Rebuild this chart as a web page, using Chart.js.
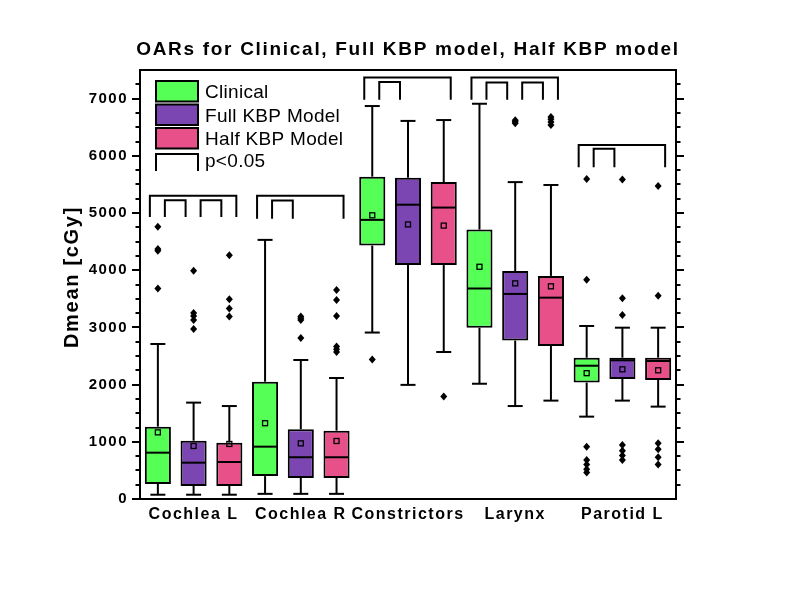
<!DOCTYPE html>
<html>
<head>
<meta charset="utf-8">
<script src="https://cdn.jsdelivr.net/npm/chart.js@4.4.0/dist/chart.umd.min.js"></script>
<style>
  html, body { margin: 0; padding: 0; background: #fff; }
  #wrap { width: 785px; height: 600px; }
</style>
</head>
<body>
<div id="wrap"><canvas id="chart" width="785" height="600"></canvas></div>
<script>
const categories = ["Cochlea L", "Cochlea R", "Constrictors", "Larynx", "Parotid L"];
const seriesNames = ["Clinical", "Full KBP Model", "Half KBP Model"];
const seriesColors = ["#55FF55", "#7B45B2", "#E8508A"];
const yTickValues = [0, 1000, 2000, 3000, 4000, 5000, 6000, 7000];

// Clinical
const clinicalLow = [75, 90, 2910, 2015, 1440];
const clinicalQ1 = [262, 400, 4430, 2995, 2035];
const clinicalMedian = [810, 915, 4880, 3680, 2330];
const clinicalQ3 = [1265, 2050, 5635, 4710, 2470];
const clinicalHigh = [2710, 4530, 6870, 6910, 3025];
const clinicalMean = [1165, 1325, 4960, 4060, 2200];
const clinicalOutliers = [[4760, 4370, 4340, 3680], [], [2440], [], [5595, 3835, 915, 680, 605, 520, 465]];

// Full KBP model
const fullLow = [75, 90, 1995, 1625, 1720];
const fullQ1 = [227, 367, 4090, 2770, 2098];
const fullMedian = [635, 730, 5145, 3585, 2425];
const fullQ3 = [1020, 1220, 5615, 3985, 2471];
const fullHigh = [1685, 2430, 6610, 5540, 2995];
const fullMean = [927, 973, 4800, 3770, 2267];
const fullOutliers = [[3990, 3250, 3200, 3130, 2970], [3190, 3160, 3130, 2815], [], [6620, 6595, 6570], [5585, 3510, 3215, 945, 845, 760, 680]];

// Half KBP model
const halfLow = [75, 90, 2570, 1720, 1615];
const halfQ1 = [227, 367, 4090, 2675, 2080];
const halfMedian = [647, 730, 5095, 3520, 2413];
const halfQ3 = [985, 1195, 5540, 3900, 2471];
const halfHigh = [1625, 2115, 6625, 5490, 2995];
const halfMean = [962, 1014, 4780, 3718, 2250];
const halfOutliers = [[4260, 3490, 3330, 3190], [3655, 3480, 3200, 2665, 2620, 2570], [1790], [6680, 6640, 6590, 6540], [5470, 3555, 975, 870, 730, 605]];

// significance brackets (p<0.05)
const bracketOuterTop = [5300, 5300, 7370, 7370, 6190];
const bracketInnerTop = [5225, 5220, 7290, 7280, 6125];
const bracketBase = [4930, 4900, 6980, 6980, 5800];
const sigClinicalHalf = [true, true, true, true, true];
const sigClinicalFull = [true, true, true, true, true];
const sigFullHalf = [true, false, false, true, false];

const stats = [
  { low: clinicalLow, q1: clinicalQ1, med: clinicalMedian, q3: clinicalQ3, high: clinicalHigh, mean: clinicalMean, out: clinicalOutliers },
  { low: fullLow, q1: fullQ1, med: fullMedian, q3: fullQ3, high: fullHigh, mean: fullMean, out: fullOutliers },
  { low: halfLow, q1: halfQ1, med: halfMedian, q3: halfQ3, high: halfHigh, mean: halfMean, out: halfOutliers },
];

const SPACING = "1.5px";
const FONT = "'Liberation Sans', Arial, sans-serif";

function seg(ctx, x1, y1, x2, y2) {
  ctx.beginPath();
  ctx.moveTo(x1, y1);
  ctx.lineTo(x2, y2);
  ctx.stroke();
}

function bracket(ctx, x1, x2, yTop, yBase) {
  ctx.beginPath();
  ctx.moveTo(x1, yBase);
  ctx.lineTo(x1, yTop);
  ctx.lineTo(x2, yTop);
  ctx.lineTo(x2, yBase);
  ctx.stroke();
}

const boxPlugin = {
  id: "boxParts",
  beforeUpdate(chart) {
    chart.ctx.letterSpacing = SPACING;
  },
  beforeDraw(chart) {
    chart.ctx.letterSpacing = SPACING;
  },
  beforeDatasetsDraw(chart) {
    let ctx = chart.ctx;
    let y = chart.scales.y;
    ctx.save();
    ctx.strokeStyle = "#000";
    ctx.lineWidth = 2;
    stats.forEach((s, di) => {
      chart.getDatasetMeta(di).data.forEach((bar, i) => {
        let x = bar.x;
        let cap = 7.5;
        seg(ctx, x, y.getPixelForValue(s.q3[i]), x, y.getPixelForValue(s.high[i]));
        seg(ctx, x, y.getPixelForValue(s.q1[i]), x, y.getPixelForValue(s.low[i]));
        seg(ctx, x - cap, y.getPixelForValue(s.high[i]), x + cap, y.getPixelForValue(s.high[i]));
        seg(ctx, x - cap, y.getPixelForValue(s.low[i]), x + cap, y.getPixelForValue(s.low[i]));
      });
    });
    ctx.restore();
  },
  afterDatasetsDraw(chart) {
    let ctx = chart.ctx;
    let y = chart.scales.y;
    ctx.save();
    ctx.strokeStyle = "#000";
    ctx.fillStyle = "#000";
    stats.forEach((s, di) => {
      chart.getDatasetMeta(di).data.forEach((bar, i) => {
        let x = bar.x;
        let w = bar.width;
        // median
        ctx.lineWidth = 2;
        let ym = y.getPixelForValue(s.med[i]);
        seg(ctx, x - w / 2 + 1, ym, x + w / 2 - 1, ym);
        // mean
        ctx.lineWidth = 1.3;
        let ya = y.getPixelForValue(s.mean[i]);
        ctx.strokeRect(x - 2.5, ya - 2.5, 5, 5);
        // outliers
        s.out[i].forEach((v) => {
          let yo = y.getPixelForValue(v);
          ctx.beginPath();
          ctx.moveTo(x, yo - 4);
          ctx.lineTo(x + 3.5, yo);
          ctx.lineTo(x, yo + 4);
          ctx.lineTo(x - 3.5, yo);
          ctx.closePath();
          ctx.fill();
        });
      });
    });

    // brackets
    ctx.lineWidth = 2;
    ctx.lineJoin = "miter";
    categories.forEach((c, i) => {
      let c0 = chart.getDatasetMeta(0).data[i].x;
      let c1 = chart.getDatasetMeta(1).data[i].x;
      let c2 = chart.getDatasetMeta(2).data[i].x;
      let base = y.getPixelForValue(bracketBase[i]);
      if (sigClinicalHalf[i]) bracket(ctx, c0 - 8, c2 + 7, y.getPixelForValue(bracketOuterTop[i]), base);
      if (sigClinicalFull[i]) bracket(ctx, c0 + 7, c1 - 8, y.getPixelForValue(bracketInnerTop[i]), base);
      if (sigFullHalf[i]) bracket(ctx, c1 + 7, c2 - 8, y.getPixelForValue(bracketInnerTop[i]), base);
    });
    ctx.restore();
  },
  afterDraw(chart) {
    let ctx = chart.ctx;
    let a = chart.chartArea;
    let y = chart.scales.y;
    ctx.save();
    ctx.strokeStyle = "#000";
    ctx.fillStyle = "#000";
    ctx.lineWidth = 2;

    // frame
    ctx.strokeRect(a.left, a.top, a.right - a.left, a.bottom - a.top);

    // minor ticks left and all ticks right
    for (let v = 250; v < 7500; v += 250) {
      let py = Math.round(y.getPixelForValue(v));
      if (v % 1000 !== 0) {
        seg(ctx, a.left - 4.5, py, a.left, py);
        seg(ctx, a.right, py, a.right + 4.5, py);
      }
    }
    yTickValues.forEach((v) => {
      let py = Math.round(y.getPixelForValue(v));
      if (v > 0) seg(ctx, a.right, py, a.right + 8, py);
    });

    // title
    ctx.letterSpacing = "1.7px";
    ctx.font = "bold 19px " + FONT;
    ctx.textAlign = "center";
    ctx.textBaseline = "alphabetic";
    ctx.fillText("OARs for Clinical, Full KBP model, Half KBP model", (a.left + a.right) / 2, 55);

    // y axis title
    ctx.save();
    ctx.translate(78, 277);
    ctx.rotate(-Math.PI / 2);
    ctx.font = "bold 20px " + FONT;
    ctx.fillText("Dmean [cGy]", 0, 0);
    ctx.restore();

    // legend
    ctx.letterSpacing = "0.3px";
    ctx.font = "19px " + FONT;
    ctx.textAlign = "left";
    let lx = 156;
    let tops = [81, 104.5, 128];
    seriesNames.forEach((name, i) => {
      ctx.fillStyle = seriesColors[i];
      ctx.fillRect(lx, tops[i], 42, 20.5);
      ctx.strokeRect(lx, tops[i], 42, 20.5);
      ctx.fillStyle = "#000";
      ctx.fillText(name, 205, tops[i] + 17);
    });
    bracket(ctx, lx, lx + 42, 154, 171);
    ctx.fillText("p<0.05", 205, 167);
    ctx.restore();
  },
};

const ctx = document.getElementById("chart");

new Chart(ctx, {
  type: "bar",
  data: {
    labels: categories,
    datasets: stats.map((s, i) => ({
      label: seriesNames[i],
      data: s.q1.map((q, j) => [q, s.q3[j]]),
      backgroundColor: seriesColors[i],
      borderColor: "#000",
      borderWidth: 2,
      borderSkipped: false,
      barPercentage: 0.73,
      categoryPercentage: 1.0,
    })),
  },
  options: {
    responsive: false,
    animation: false,
    devicePixelRatio: 1,
    layout: { padding: { top: 70, right: 109, left: 0, bottom: 0 } },
    plugins: {
      legend: { display: false },
      tooltip: { enabled: false },
      title: { display: false },
    },
    scales: {
      x: {
        grid: { display: false, drawTicks: false },
        border: { display: false },
        ticks: {
          color: "#000",
          padding: 6,
          autoSkip: false,
          maxRotation: 0,
          minRotation: 0,
          font: { family: FONT, size: 16, weight: "bold" },
        },
        afterFit: (scale) => { scale.height = 101; },
      },
      y: {
        min: 0,
        max: 7500,
        grid: { display: true, drawOnChartArea: false, drawTicks: true, tickLength: 8, color: "#000", lineWidth: 2 },
        border: { display: false },
        ticks: {
          color: "#000",
          padding: 4,
          autoSkip: false,
          callback: (v) => String(v),
          font: { family: FONT, size: 15, weight: "bold" },
        },
        afterBuildTicks: (scale) => {
          scale.ticks = yTickValues.map((v) => ({ value: v }));
        },
        afterFit: (scale) => { scale.width = 140; },
      },
    },
  },
  plugins: [boxPlugin],
});
</script>
</body>
</html>
